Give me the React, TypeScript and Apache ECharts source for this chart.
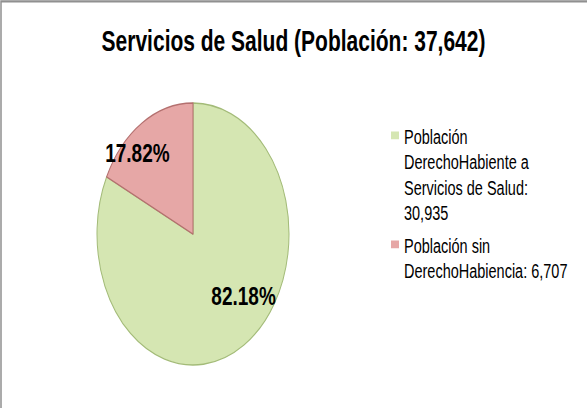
import React, { useEffect, useRef } from "react";
import * as echarts from "echarts";

const titleText = "Servicios de Salud (Población: 37,642)";
const categories = [
  "Población DerechoHabiente a Servicios de Salud",
  "Población sin DerechoHabiencia",
];
const values = [30935, 6707];
const legendLines = [
  ["Población", "DerechoHabiente a", "Servicios de Salud:", "30,935"],
  ["Población sin", "DerechoHabiencia: 6,707"],
];
const colors = ["#d5e6b2", "#e6a7a6"];
const borderColors = ["#a3bb78", "#b4706f"];

const W = 587;
const H = 408;
const SY = 1.3645; // vertical stretch of the original picture
const CH = Math.round(H / SY);
const LH = 18.6;
const FONT = "'Liberation Sans', Arial, sans-serif";

function iconPath(lines: number) {
  const h = lines * LH;
  const c = h / 2 - ((lines - 1) * LH) / 2 - 1.4;
  const a = (c - 2.9).toFixed(2);
  const b = (c + 2.9).toFixed(2);
  return `path://M0,${a}H8V${b}H0Z M0,0H0.01V0.01H0Z M0,${h.toFixed(2)}H0.01V${(h - 0.01).toFixed(2)}H0Z`;
}

export default function App() {
  const ref = useRef<HTMLDivElement>(null);
  useEffect(() => {
    if (!ref.current) return;
    const chart = echarts.init(ref.current, undefined, { renderer: "svg" });
    const offsets = [
      [23.5, 2],
      [-28.5, -16],
    ];
    const legendTops = [86.3, 166.2];
    chart.setOption({
      animation: false,
      backgroundColor: "#ffffff",
      title: {
        text: titleText,
        left: "center",
        top: 14,
        textStyle: {
          fontFamily: FONT,
          fontWeight: "bold",
          fontSize: 21,
          color: "#000000",
        },
      },
      graphic: [
        {
          type: "rect",
          shape: { x: 1, y: 1, width: W + 10, height: CH + 10 },
          style: { fill: "none", stroke: "#909090", lineWidth: 1.5 },
          silent: true,
        },
      ],
      legend: categories.map((name, i) => ({
        orient: "vertical",
        left: 386,
        top: legendTops[i],
        itemWidth: 8,
        itemHeight: legendLines[i].length * LH,
        icon: iconPath(legendLines[i].length),
        itemStyle: { borderWidth: 0 },
        data: [name],
        formatter: () => legendLines[i].join("\n"),
        textStyle: {
          fontFamily: FONT,
          fontSize: 14.5,
          lineHeight: LH,
          color: "#000000",
        },
        selectedMode: false,
      })),
      series: [
        {
          type: "pie",
          center: [193, 171.5],
          radius: 96,
          startAngle: 90,
          clockwise: true,
          data: categories.map((name, i) => ({
            name,
            value: values[i],
            itemStyle: {
              color: colors[i],
              borderColor: borderColors[i],
              borderWidth: 1,
            },
            label: { offset: offsets[i] },
          })),
          label: {
            show: true,
            position: "inside",
            formatter: "{d}%",
            fontFamily: FONT,
            fontWeight: "bold",
            fontSize: 19,
            color: "#000000",
          },
          labelLine: { show: false },
          emphasis: { disabled: true },
        },
      ],
    });
    return () => chart.dispose();
  }, []);
  return (
    <div
      ref={ref}
      style={{
        position: "fixed",
        left: 0,
        top: 0,
        width: W,
        height: CH,
        transform: `scaleY(${SY})`,
        transformOrigin: "0 0",
      }}
    />
  );
}
